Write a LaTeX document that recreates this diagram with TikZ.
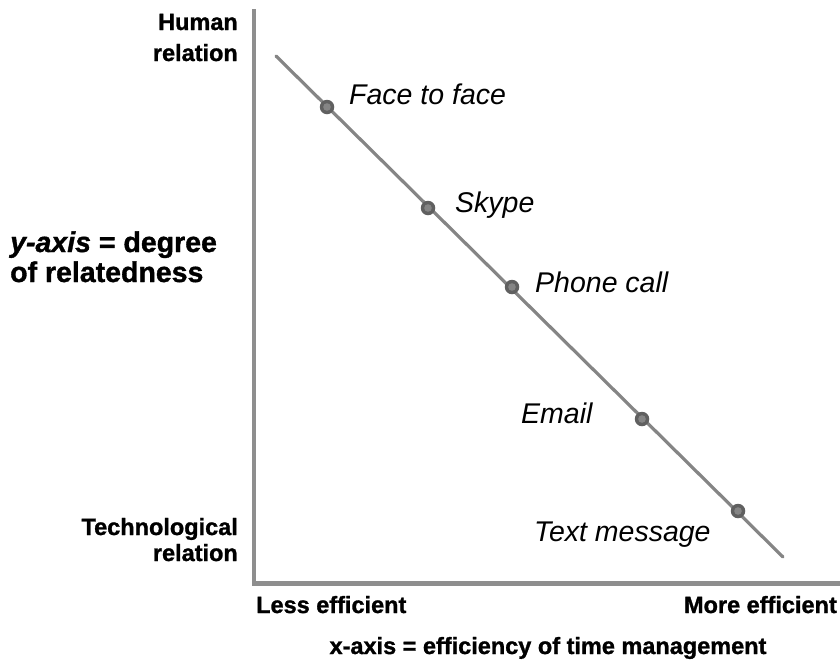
\documentclass[tikz,border=0pt]{standalone}
\usepackage{fontspec}
\setmainfont{Liberation Sans}[BoldFeatures={FakeBold=1.2}, BoldItalicFeatures={FakeBold=1.2}]
\definecolor{axisgray}{HTML}{8E8E8E}
\definecolor{trendgray}{HTML}{858585}
\definecolor{dotouter}{HTML}{606060}
\definecolor{dotinner}{HTML}{858585}
\begin{document}
\begin{tikzpicture}[x=1pt,y=-1pt,
  axisline/.style={draw=axisgray, line width=4.8pt, line join=miter},
  trend/.style={draw=trendgray, line width=3.2pt, line cap=round},
  dot/.style={circle, inner sep=0pt, minimum size=14.5pt, fill=dotouter,
    path picture={\fill[dotinner] (path picture bounding box.center) circle (3.8pt);}},
  medium/.style={font=\fontsize{28.5}{32}\selectfont\itshape, inner sep=0pt},
  axislbl/.style={font=\fontsize{23.5}{28}\selectfont\bfseries, inner sep=0pt},
  ylbl/.style={font=\fontsize{28.5}{32}\selectfont\bfseries, inner sep=0pt}]
\useasboundingbox (0,0) rectangle (840,667);

% axes
\coordinate (ytop) at (254,9);
\coordinate (origin) at (254,583.5);
\coordinate (xend) at (840,583.5);
\draw[axisline] (ytop) -- (origin) -- (xend);

% trend line
\coordinate (tstart) at (276,56);
\coordinate (tend) at (783,557);
\draw[trend] (tstart) -- (tend);

% communication media on the line
\node[dot] (face)  at (327,107) {};
\node[dot] (skype) at (428,208) {};
\node[dot] (phone) at (512,287) {};
\node[dot] (email) at (642,419) {};
\node[dot] (text)  at (738,511) {};

\node[medium, anchor=base west] (facelbl)  at (349,104) {Face to face};
\node[medium, anchor=base west] (skypelbl) at (455,212) {Skype};
\node[medium, anchor=base west] (phonelbl) at (535,292) {Phone call};
\node[medium, anchor=base west] (emaillbl) at (521,423) {Email};
\node[medium, anchor=base west] (textlbl)  at (534,541) {Text message};

% y-axis labels
\node[axislbl, anchor=base east] (hum1) at (238,30) {Human};
\node[axislbl, anchor=base east] (hum2) at (238,61) {relation};
\node[axislbl, anchor=base east] (tech1) at (238,535) {Technological};
\node[axislbl, anchor=base east] (tech2) at (238,561) {relation};
\node[ylbl, anchor=base west] (ylbl1) at (10,252) {{\itshape y-axis} = degree};
\node[ylbl, anchor=base west] (ylbl2) at (10,282) {of relatedness};

% x-axis labels
\node[axislbl, anchor=base west] (less) at (256,613) {Less efficient};
\node[axislbl, anchor=base east] (more) at (837,613) {More efficient};
\node[axislbl, anchor=base] (xlbl) at (548,654) {x-axis = efficiency of time management};
\end{tikzpicture}
\end{document}
